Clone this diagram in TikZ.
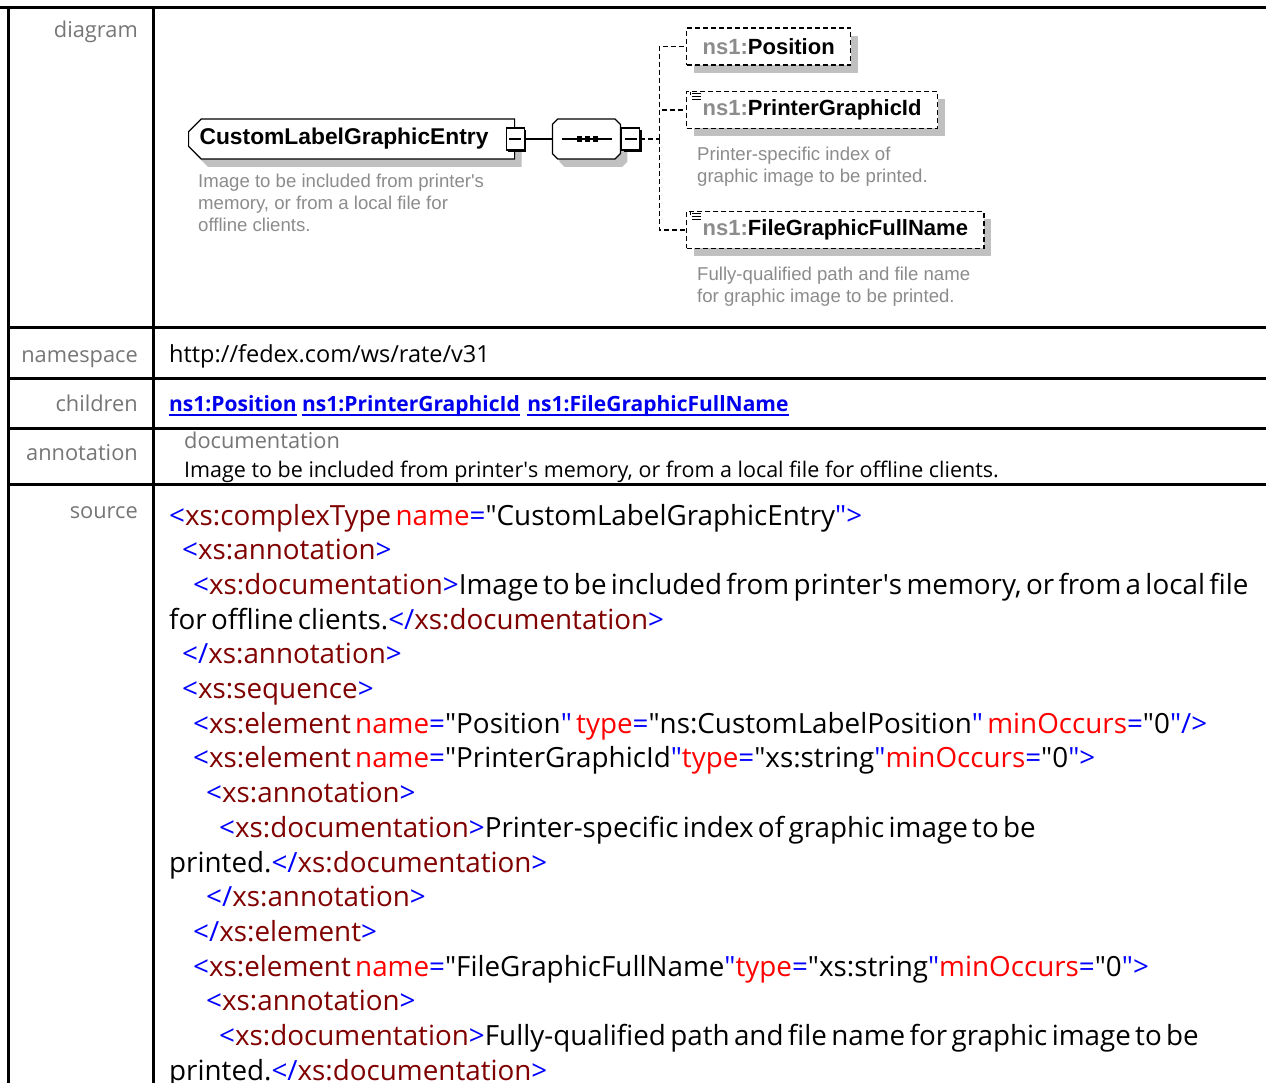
\documentclass[tikz,border=0pt]{standalone}
\usepackage{fontspec}
\setmainfont{Open Sans}
\newfontfamily\diagfont{Liberation Sans}
\newfontfamily\srcfont[WordSpace=0.6]{Open Sans}
\usetikzlibrary{positioning, calc, shapes.misc, shadows}

\definecolor{labelgray}{RGB}{118,118,118}
\definecolor{docgray}{RGB}{140,140,140}
\definecolor{shadegray}{RGB}{192,192,192}
\definecolor{linkblue}{RGB}{0,0,238}
\definecolor{tagred}{RGB}{128,0,0}
\definecolor{attrred}{RGB}{255,0,0}
\definecolor{markblue}{RGB}{0,0,255}

\newcommand{\xmk}[1]{\textcolor{markblue}{#1}}
\newcommand{\xtag}[1]{\textcolor{tagred}{#1}}
\newcommand{\xatt}[1]{\textcolor{attrred}{#1}}
\newcommand{\qt}{\textquotedbl}
\newcommand{\nsone}[1]{\textcolor{docgray}{ns1:}#1}
\newcommand{\tabsize}{\fontsize{21.8}{26}\selectfont}
\newcommand{\srcsize}{\srcfont\fontsize{27.8}{34}\selectfont}
\newcommand{\docsize}{\diagfont\fontsize{18.6}{22}\selectfont}

\begin{document}
\begin{tikzpicture}[x=1pt, y=-1pt,
        rule/.style={line width=3pt},
        rowlabel/.style={anchor=base east, inner sep=0pt, text=labelgray, font=\tabsize},
        cell/.style={anchor=base west, inner sep=0pt, font=\tabsize},
        linktext/.style={anchor=base west, inner sep=0pt, text=linkblue, font=\fontsize{21}{25}\selectfont\bfseries},
        linkline/.style={linkblue, line width=2pt},
        src/.style={anchor=base west, inner sep=0pt, font=\srcsize},
        elembox/.style={chamfered rectangle, chamfered rectangle xsep=9pt, draw, line width=1.2pt, fill=white,
            minimum height=40pt, inner xsep=2pt, anchor=west,
            general shadow={fill=shadegray, shadow xshift=7pt, shadow yshift=-8pt}},
        togglebox/.style={draw, fill=white, line width=1.2pt, minimum width=18pt, minimum height=22pt, inner sep=0pt,
            general shadow={fill=black, shadow xshift=2pt, shadow yshift=-2pt},
            path picture={\draw[line width=1.2pt] ([xshift=3pt]path picture bounding box.west) -- ([xshift=-3pt]path picture bounding box.east);}},
        childbox/.style={draw, dash pattern=on 5pt off 3pt, line width=1.4pt, fill=white, minimum height=37pt,
            inner xsep=16pt, anchor=west, font=\diagfont\bfseries\fontsize{22}{26}\selectfont,
            general shadow={fill=shadegray, shadow xshift=7pt, shadow yshift=-8pt}},
        dashline/.style={dash pattern=on 5pt off 3pt, line width=1.4pt},
        doc/.style={anchor=north west, inner sep=0pt, align=left, text=docgray, font=\docsize}
    ]
    \useasboundingbox (0,0) rectangle (1266,1083);
    \fill[white] (0,0) rectangle (1266,1083);

    % table frame
    \draw[rule] (0,8) -- (1266,8);
    \draw[rule] (8,8) -- (8,1083);
    \draw[rule] (153,8) -- (153,1083);
    \foreach \ry in {327,378,428,484}
        \draw[rule] (8,\ry) -- (1266,\ry);

    % row labels
    \node[rowlabel] (lbdiag) at (138,38) {diagram};
    \node[rowlabel] (lbns) at (138,362) {namespace};
    \node[rowlabel] (lbchild) at (138,411) {children};
    \node[rowlabel] (lbanno) at (138,460) {annotation};
    \node[rowlabel] (lbsrc) at (138,518) {source};

    % diagram
    \node[elembox, chamfered rectangle corners={north west, south west}, text width=304pt, align=left,
        font=\diagfont\bfseries\fontsize{22.8}{26}\selectfont] (root) at (188,139) {CustomLabelGraphicEntry};
    \node[togglebox] (roottog) at (root.east) {};
    \node[elembox, minimum width=68pt, right=27pt of roottog] (seq) {};
    \node[togglebox, right=0pt of seq] (seqtog) {};
    \draw[line width=1.2pt] (roottog) -- (seq);
    \draw[line width=1.2pt] ([xshift=10pt]seq.west) -- ([xshift=-9pt]seq.east);
    \foreach \dx in {-7,1,9}
        \fill ([xshift=\dx pt]seq.center) ++(-2.6pt,-2.6pt) rectangle ++(5.2pt,5.2pt);

    \node[childbox] (pos) at (686,46.5) {\nsone{Position}};
    \node[childbox] (pgid) at (686,110) {\nsone{PrinterGraphicId}};
    \node[childbox] (fgfn) at (686,230) {\nsone{FileGraphicFullName}};
    \foreach \cb in {pgid,fgfn}{
        \foreach \k in {0,1,2}
            \draw[line width=0.9pt] ([xshift=6pt, yshift={-2.5pt-3pt*\k}]\cb.north west) -- ++(9pt,0pt);
        \draw[line width=0.9pt] ([xshift=4.5pt, yshift=-1pt]\cb.north west) -- ++(0pt,-3pt);
    }

    \coordinate (hub) at ($(seqtog.east)+(19pt,0pt)$);
    \draw[dashline] (seqtog) -- (hub);
    \draw[dashline] (hub) |- (pos);
    \draw[dashline] (hub) |- (pgid);
    \draw[dashline] (hub) |- (fgfn);

    \node[doc] (rootdoc) at (198,174) {Image to be included from printer\textquotesingle s\\memory, or from a local file for\\offline clients.};
    \node[doc, below right=18pt and 11pt of pgid.south west] (pgiddoc) {Printer-specific index of\\graphic image to be printed.};
    \node[doc, below right=18pt and 11pt of fgfn.south west] (fgfndoc) {Fully-qualified path and file name\\for graphic image to be printed.};

    % namespace, children, annotation
    \node[cell, font=\fontsize{23.5}{28}\selectfont] (nsval) at (169,362) {http://fedex.com/ws/rate/v31};
    \node[linktext] (lk1) at (169,411) {ns1:Position};
    \node[linktext, right=5pt of lk1.base east, anchor=base west] (lk2) {ns1:PrinterGraphicId};
    \node[linktext, right=7pt of lk2.base east, anchor=base west] (lk3) {ns1:FileGraphicFullName};
    \foreach \lk in {lk1,lk2,lk3}
        \draw[linkline] ([yshift=-4pt]\lk.base west) -- ([yshift=-4pt]\lk.base east);
    \node[cell, text=labelgray] (docword) at (184,448) {documentation};
    \node[cell, font=\fontsize{21.5}{26}\selectfont] (annotext) at (184,477) {Image to be included from printer\textquotesingle s memory, or from a local file for offline clients.};

    % source
    \node[src] (s1) at (169,525) {\xmk{<}\xtag{xs:complexType} \xatt{name}\xmk{=}\qt CustomLabelGraphicEntry\xmk{\qt>}};
    \node[src] (s2) at (182,559.7) {\xmk{<}\xtag{xs:annotation}\xmk{>}};
    \node[src] (s3) at (193,594.4) {\xmk{<}\xtag{xs:documentation}\xmk{>}Image to be included from printer\textquotesingle s memory, or from a local file};
    \node[src] (s4) at (169,629.1) {for offline clients.\xmk{</}\xtag{xs:documentation}\xmk{>}};
    \node[src] (s5) at (182,663.8) {\xmk{</}\xtag{xs:annotation}\xmk{>}};
    \node[src] (s6) at (182,698.5) {\xmk{<}\xtag{xs:sequence}\xmk{>}};
    \node[src] (s7) at (193,733.2) {\xmk{<}\xtag{xs:element} \xatt{name}\xmk{=}\qt Position\xmk{\qt} \xatt{type}\xmk{=}\qt ns:CustomLabelPosition\xmk{\qt} \xatt{minOccurs}\xmk{=}\qt 0\xmk{\qt/>}};
    \node[src] (s8) at (193,767.9) {\xmk{<}\xtag{xs:element} \xatt{name}\xmk{=}\qt PrinterGraphicId\xmk{\qt}\xatt{type}\xmk{=}\qt xs:string\xmk{\qt}\xatt{minOccurs}\xmk{=}\qt 0\xmk{\qt>}};
    \node[src] (s9) at (206,802.6) {\xmk{<}\xtag{xs:annotation}\xmk{>}};
    \node[src] (s10) at (219,837.3) {\xmk{<}\xtag{xs:documentation}\xmk{>}Printer-specific index of graphic image to be};
    \node[src] (s11) at (169,872) {printed.\xmk{</}\xtag{xs:documentation}\xmk{>}};
    \node[src] (s12) at (206,906.7) {\xmk{</}\xtag{xs:annotation}\xmk{>}};
    \node[src] (s13) at (193,941.4) {\xmk{</}\xtag{xs:element}\xmk{>}};
    \node[src] (s14) at (193,976.1) {\xmk{<}\xtag{xs:element} \xatt{name}\xmk{=}\qt FileGraphicFullName\xmk{\qt}\xatt{type}\xmk{=}\qt xs:string\xmk{\qt}\xatt{minOccurs}\xmk{=}\qt 0\xmk{\qt>}};
    \node[src] (s15) at (206,1010.8) {\xmk{<}\xtag{xs:annotation}\xmk{>}};
    \node[src] (s16) at (219,1045.5) {\xmk{<}\xtag{xs:documentation}\xmk{>}Fully-qualified path and file name for graphic image to be};
    \node[src] (s17) at (169,1080.2) {printed.\xmk{</}\xtag{xs:documentation}\xmk{>}};
\end{tikzpicture}
\end{document}
